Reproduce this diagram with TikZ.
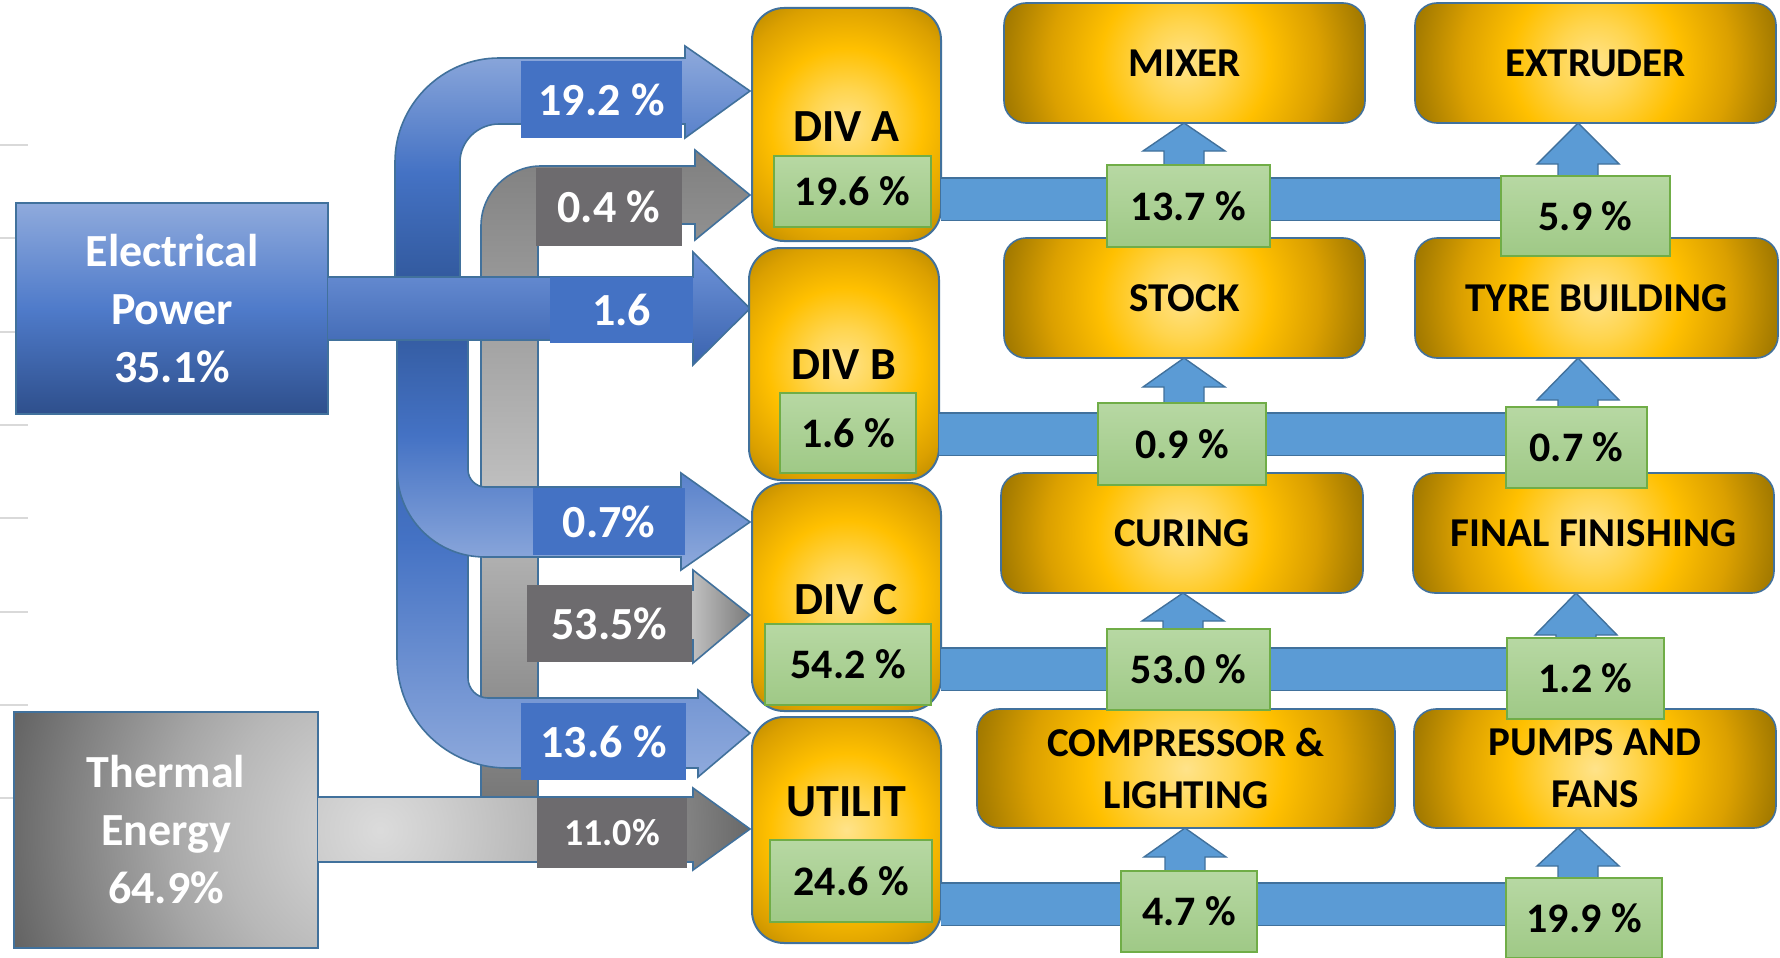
\documentclass[tikz,border=0pt]{standalone}
\usepackage{fontspec}
\setmainfont{Carlito}
\usetikzlibrary{calc}

\definecolor{goldlight}{HTML}{FFE38A}
\definecolor{goldsoft}{HTML}{FFD54F}
\definecolor{goldmid}{HTML}{FFC000}
\definecolor{goldwarm}{HTML}{DBA000}
\definecolor{golddark}{HTML}{A67C00}
\definecolor{goldcorner}{HTML}{927000}
\definecolor{boxline}{HTML}{41719C}
\definecolor{barfill}{HTML}{5B9BD5}
\definecolor{bluelab}{HTML}{4472C4}
\definecolor{greylab}{HTML}{6D6B6E}
\definecolor{bluelight}{HTML}{8FAADC}
\definecolor{bluemid}{HTML}{4F7BCA}
\definecolor{bluedark}{HTML}{2F5597}
\definecolor{bluedeep}{HTML}{2E4F8C}
\definecolor{armtop}{HTML}{6E93D8}
\definecolor{armbot}{HTML}{3A63AF}
\definecolor{greentop}{HTML}{B7D8A3}
\definecolor{greenbot}{HTML}{9FC986}
\definecolor{greenline}{HTML}{70AD47}
\definecolor{tickgrey}{HTML}{D9D9D9}

% stops at half scale: the circle drawn is twice the glow radius
\pgfdeclareradialshading{goldglow}{\pgfpoint{0bp}{0bp}}{%
  color(0bp)=(goldlight); color(2.5bp)=(goldsoft); color(5.3bp)=(goldmid);
  color(8.45bp)=(goldwarm); color(11.25bp)=(golddark); color(12.5bp)=(goldcorner);
  color(50bp)=(goldcorner)}
\pgfdeclareradialshading{greyglow}{\pgfpoint{0bp}{0bp}}{%
  color(0bp)=(white!86!black); color(3.75bp)=(white!81!black);
  color(9.8bp)=(white!72!black); color(13.4bp)=(white!65!black);
  color(19.6bp)=(white!50!black); color(23.1bp)=(white!41!black);
  color(25bp)=(white!36!black); color(50bp)=(white!36!black)}
\pgfdeclarehorizontalshading{greyhead}{100bp}{%
  color(0bp)=(white!80!black); color(25bp)=(white!80!black);
  color(61bp)=(white!76!black); color(75bp)=(white!48!black);
  color(100bp)=(white!48!black)}

% up arrow from a bar to the box above it
\newcommand\riser[4]{%
  \draw[riser] let \p1=(#1), \p2=(#2.south) in
    (#3pt-20pt,\y1) -- (#3pt-20pt,\y2-#4pt) -- (#3pt-41pt,\y2-#4pt) -- (#3pt,\y2)
    -- (#3pt+41pt,\y2-#4pt) -- (#3pt+20pt,\y2-#4pt) -- (#3pt+20pt,\y1) -- cycle;}

\begin{document}
\begin{tikzpicture}[x=1pt, y=-1pt,
    every node/.style={inner sep=0pt, outer sep=0pt},
    wh/.style 2 args={minimum width=#1pt, minimum height=#2pt},
    goldbox/.style={draw=boxline, line width=1.6pt, rounded corners=22pt,
      path picture={\shade[shading=goldglow] (path picture bounding box.center) circle (#1);}},
    goldbox/.default=400pt,
    divbox/.style={goldbox=360pt, rounded corners=32pt, line width=2pt},
    greyglowfill/.style={path picture={\shade[shading=greyglow] (glowT) circle (400pt);}},
    boxtext/.style={font=\bfseries\fontsize{41}{52}\selectfont, align=center},
    divtext/.style={font=\bfseries\fontsize{46}{56}\selectfont},
    glabel/.style={draw=greenline, line width=1.4pt, top color=greentop,
      bottom color=greenbot, font=\bfseries\fontsize{42}{50}\selectfont},
    blab/.style={fill=bluelab, text=white, font=\bfseries\fontsize{46}{56}\selectfont},
    klab/.style={fill=greylab, text=white, font=\bfseries\fontsize{46}{56}\selectfont},
    bigtext/.style={text=white, align=center, font=\bfseries\fontsize{46}{58}\selectfont},
    bentarrow/.style={draw=boxline, line width=1.6pt},
    flowbar/.style={draw=boxline, line width=1.4pt, double=barfill, double distance=41pt},
    riser/.style={draw=boxline, line width=1.4pt, fill=barfill},
    gridtick/.style={draw=tickgrey, line width=2.5pt},
  ]
  \fill[white] (0,0) rectangle (1780,958);
  \useasboundingbox (0,0) rectangle (1780,958);

  \foreach \ty in {145,238,332,425,518,612,705,798}
    \draw[gridtick] (0,\ty) -- (28,\ty);

  % bent arrows behind the sources
  \path[bentarrow, top color=white!50!black, bottom color=white!44!black, middle color=white!75!black]
    (538,830) -- (538,224) -- (695,224) -- (695,240) -- (750,195) -- (695,150) -- (695,166)
    -- (541,166) .. controls (508,166) and (481,193) .. (481,226) -- (481,830) -- cycle;
  \path[bentarrow, top color=bluedark, bottom color=bluelight, middle color=bluelab]
    (397,300) -- (397,658) .. controls (397,719) and (446,768) .. (507,768) -- (698,768)
    -- (698,777) -- (750,733) -- (698,690) -- (698,698) -- (488,698)
    .. controls (477,698) and (468,689) .. (468,678) -- (468,300) -- cycle;
  \path[bentarrow, top color=bluedark, bottom color=bluelight, middle color=bluelab]
    (397,300) -- (397,469) .. controls (397,518) and (436,557) .. (485,557) -- (681,557)
    -- (681,570) -- (750,522) -- (681,473) -- (681,487) -- (485,487)
    .. controls (476,487) and (468,479) .. (468,470) -- (468,300) -- cycle;
  \path[bentarrow, top color=bluelight, bottom color=bluedark, middle color=bluelab]
    (460,300) -- (460,162) .. controls (460,141) and (478,124) .. (499,124) -- (685,124)
    -- (685,138) -- (750,91) -- (685,46) -- (685,58) -- (499,58)
    .. controls (442,58) and (395,105) .. (395,162) -- (395,300) -- cycle;
  \path[bentarrow, shade, shading=greyhead]
    (538,590) -- (693,590) -- (693,570) -- (750,615) -- (693,663) -- (693,640) -- (538,640) -- cycle;

  % sources
  \node[draw=boxline, line width=1.8pt, top color=bluelight, bottom color=bluedeep,
    middle color=bluemid, wh={312}{211}, bigtext] (elec) at (172,308.5) {Electrical\\Power\\35.1\%};
  \path[bentarrow, top color=armtop, bottom color=armbot]
    (elec.east |- 0,277) -- (693,277) -- (693,252) -- (750,308.5) -- (693,365) -- (693,340)
    -- (elec.east |- 0,340);

  \coordinate (glowT) at (380,830);
  \node[draw=boxline, line width=1.8pt, greyglowfill, wh={304}{236}, bigtext]
    (therm) at (166,830) {Thermal\\Energy\\64.9\%};
  \path[bentarrow, greyglowfill]
    (therm.east |- 0,797) -- (693,797) -- (693,788) -- (750,829) -- (693,870) -- (693,862)
    -- (therm.east |- 0,862);

  \node[blab, wh={161}{77}] (l192) at (601.5,99.5) {19.2 \%};
  \node[klab, wh={146}{78}] (l04) at (609,207) {0.4 \%};
  \node[blab, wh={143}{66}] (l16) at (621.5,310) {1.6};
  \node[blab, wh={152}{67}] (l07) at (609,521.5) {0.7\%};
  \node[klab, wh={165}{77}] (l535) at (609.5,623.5) {53.5\%};
  \node[blab, wh={165}{77}] (l136) at (603.5,741.5) {13.6 \%};
  \node[klab, wh={150}{70}, font=\bfseries\fontsize{38}{46}\selectfont] (l110) at (612,833) {11.0\%};

  % divisions
  \node[divbox, wh={189}{233}] (divA) at (846.5,124.5) {};
  \node[divbox, wh={190}{232}] (divB) at (844,364) {};
  \node[divbox, wh={189}{228}] (divC) at (846.5,597) {};
  \node[divbox, wh={189}{226}] (util) at (846.5,830) {};
  \node[divtext] (tA) at (846.5,127) {DIV A};
  \node[divtext] (tB) at (844,365) {DIV B};
  \node[divtext] (tC) at (846.5,600) {DIV C};
  \node[divtext] (tU) at (846.5,802) {UTILIT};

  % processes
  \node[goldbox, wh={361}{120}, boxtext] (mixer) at (1184.5,63) {MIXER};
  \node[goldbox, wh={361}{120}, boxtext] (extruder) at (1595.5,63) {EXTRUDER};
  \node[goldbox, wh={361}{120}, boxtext] (stock) at (1184.5,298) {STOCK};
  \node[goldbox, wh={363}{120}, boxtext] (tyre) at (1596.5,298) {TYRE BUILDING};
  \node[goldbox, wh={362}{120}, boxtext] (curing) at (1182,533) {CURING};
  \node[goldbox, wh={361}{120}, boxtext] (final) at (1593.5,533) {FINAL FINISHING};
  \node[goldbox=460pt, wh={418}{119}, boxtext] (compr) at (1186,768.5) {COMPRESSOR \&\\LIGHTING};
  \node[goldbox, wh={362}{119}, boxtext] (pumps) at (1595,768.5) {PUMPS AND\\FANS};

  \coordinate (barA) at (0,199);
  \coordinate (barB) at (0,434);
  \coordinate (barC) at (0,669);
  \coordinate (barU) at (0,904);
  \draw[flowbar] (divA.east |- barA) -- (extruder.center |- barA);
  \draw[flowbar] (divB.east |- barB) -- (tyre.center |- barB);
  \draw[flowbar] (divC.east |- barC) -- (final.center |- barC);
  \draw[flowbar] (util.east |- barU) -- (pumps.center |- barU);

  \riser{barA}{mixer}{1184}{28}
  \riser{barA}{extruder}{1578}{41}
  \riser{barB}{stock}{1184}{29}
  \riser{barB}{tyre}{1578}{42}
  \riser{barC}{curing}{1183}{28}
  \riser{barC}{final}{1576}{42}
  \riser{barU}{compr}{1185}{29}
  \riser{barU}{pumps}{1578}{38}

  \node[glabel, wh={157}{71}] (gA) at (852.5,191.5) {19.6 \%};
  \node[glabel, wh={136}{80}] (gB) at (848,433) {1.6 \%};
  \node[glabel, wh={166}{81}] (gC) at (848,664.5) {54.2 \%};
  \node[glabel, wh={162}{82}] (gU) at (851,881) {24.6 \%};
  \node[glabel, wh={163}{82}] (gA1) at (1188.5,206) {13.7 \%};
  \node[glabel, wh={169}{80}] (gA2) at (1585.5,216) {5.9 \%};
  \node[glabel, wh={168}{82}] (gB1) at (1182,444) {0.9 \%};
  \node[glabel, wh={141}{81}] (gB2) at (1576.5,447.5) {0.7 \%};
  \node[glabel, wh={163}{81}] (gC1) at (1188.5,669.5) {53.0 \%};
  \node[glabel, wh={157}{81}] (gC2) at (1585.5,678.5) {1.2 \%};
  \node[glabel, wh={136}{81}] (gU1) at (1189,911.5) {4.7 \%};
  \node[glabel, wh={156}{80}] (gU2) at (1584,918) {19.9 \%};
\end{tikzpicture}
\end{document}
